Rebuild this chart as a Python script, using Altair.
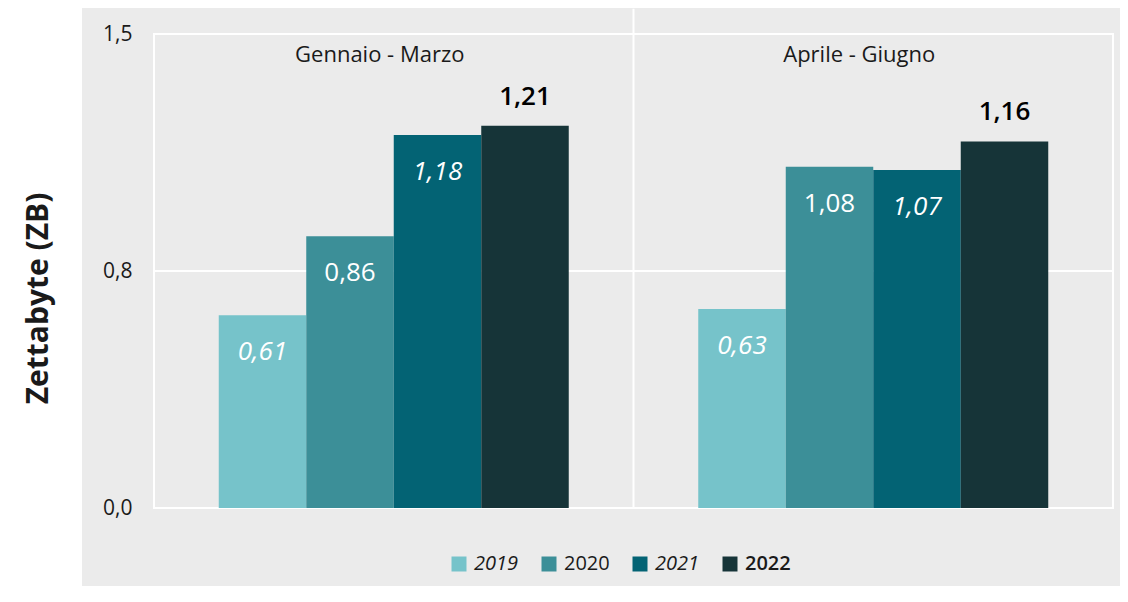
import altair as alt
import pandas as pd

periods = ["Gennaio - Marzo", "Aprile - Giugno"]
years = ["2019", "2020", "2021", "2022"]
q1_values = [0.61, 0.86, 1.18, 1.21]
q2_values = [0.63, 1.08, 1.07, 1.16]
colors = ["#76c3ca", "#3c8f98", "#036374", "#163438"]
y_ticks = [0, 0.75, 1.5]

rows = []
for p, vals in zip(periods, [q1_values, q2_values]):
    for yr, v in zip(years, vals):
        rows.append({"period": p, "year": yr, "value": v})
df = pd.DataFrame(rows)

W, H = 959, 474
FONT = "Open Sans"
TXT = "#1a1a1a"

y_scale = alt.Scale(domain=[0, 1.5], nice=False, zero=True)


def xe():
    return alt.X("period:N", sort=periods,
                 scale=alt.Scale(paddingInner=0, paddingOuter=0), axis=None)


def xo():
    return alt.XOffset("year:N", sort=years,
                       scale=alt.Scale(paddingInner=0, paddingOuter=0.74))


# white strip behind the y-axis title
strip = alt.Chart(pd.DataFrame({"k": [0]})).mark_rect(color="white").encode(
    x=alt.value(-146), x2=alt.value(-72), y=alt.value(-26), y2=alt.value(H + 80)
)

grid = alt.Chart(pd.DataFrame({"v": [0.75]})).mark_rule(color="white", strokeWidth=2).encode(
    y=alt.Y("v:Q", scale=y_scale)
)

divider = alt.Chart(pd.DataFrame({"period": [periods[0]], "bottom": [0.0], "top": [1.58]})).mark_rule(
    color="white", strokeWidth=2
).encode(
    x=alt.X("period:N", sort=periods, bandPosition=1,
            scale=alt.Scale(paddingInner=0, paddingOuter=0), axis=None),
    y=alt.Y("bottom:Q", scale=y_scale),
    y2="top:Q",
)

bars = alt.Chart(df).mark_bar().encode(
    x=xe(),
    xOffset=xo(),
    y=alt.Y("value:Q", scale=y_scale,
            axis=alt.Axis(values=y_ticks, grid=False, domain=False, ticks=False,
                          labelExpr="replace(format(datum.value, '.1f'), '.', ',')",
                          labelFont=FONT, labelFontSize=21, labelColor=TXT, labelPadding=22,
                          title="Zettabyte (ZB)", titleFont=FONT, titleFontSize=30,
                          titleFontWeight="bold", titleColor=TXT, titleAngle=270,
                          titleX=-116, titleY=264, titleAlign="center", titleBaseline="middle",
                          zindex=1)),
    color=alt.Color("year:N", sort=years, scale=alt.Scale(domain=years, range=colors),
                    legend=alt.Legend(orient="none", legendX=295, legendY=520, direction="horizontal",
                                      title=None, symbolType="square", symbolSize=225,
                                      symbolStrokeWidth=0, symbolOpacity=1,
                                      labelFont=FONT, labelFontSize=20, labelColor=TXT,
                                      labelOffset=5, columnPadding=20,
                                      labelFontStyle=alt.ExprRef(expr="datum.label == '2019' || datum.label == '2021' ? 'italic' : 'normal'"),
                                      labelFontWeight=alt.ExprRef(expr="datum.label == '2022' ? 600 : 'normal'"))),
)

lab = alt.Chart(df).transform_calculate(
    label="replace(format(datum.value, '.2f'), '.', ',')"
)

inner_italic = lab.transform_filter("datum.year == '2019' || datum.year == '2021'").mark_text(
    font=FONT, fontSize=26, fontStyle="italic", color="white", baseline="middle", dy=37
).encode(x=xe(), xOffset=xo(), y=alt.Y("value:Q", scale=y_scale), text="label:N")

inner_normal = lab.transform_filter("datum.year == '2020'").mark_text(
    font=FONT, fontSize=26, color="white", baseline="middle", dy=37
).encode(x=xe(), xOffset=xo(), y=alt.Y("value:Q", scale=y_scale), text="label:N")

outer = lab.transform_filter("datum.year == '2022'").mark_text(
    font=FONT, fontSize=26, fontWeight=600, color="#000000", baseline="middle", dy=-29
).encode(x=xe(), xOffset=xo(), y=alt.Y("value:Q", scale=y_scale), text="label:N")

titles = alt.Chart(pd.DataFrame({"period": periods, "ypos": [1.433, 1.433]})).mark_text(
    font=FONT, fontSize=22, color=TXT, baseline="middle", dx=-14
).encode(x=xe(), y=alt.Y("ypos:Q", scale=y_scale), text="period:N")

chart = alt.layer(strip, grid, divider, bars, inner_italic, inner_normal, outer, titles).properties(
    width=W, height=H,
    autosize=alt.AutoSizeParams(type="none"),
    padding={"left": 146, "top": 26, "right": 7, "bottom": 78},
).configure(background="#ebebeb").configure_view(stroke="white", strokeWidth=2)

chart.save("out.html", embed_options={"renderer": "svg", "actions": False})
